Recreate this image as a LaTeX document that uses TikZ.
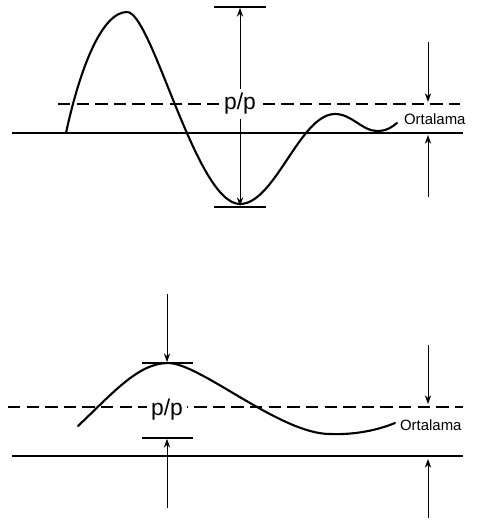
\documentclass[tikz,border=0pt]{standalone}
\usepackage{fontspec}
\setmainfont{Liberation Sans}
\usetikzlibrary{arrows.meta}

\tikzset{
  wave/.style={line width=1.2pt, line join=round, line cap=round},
  refline/.style={line width=0.6pt},
  meanline/.style={line width=0.6pt, dash pattern=on 7pt off 3.6pt},
  dimline/.style={line width=0.5pt, -{Stealth[length=5pt,width=3.6pt]}},
  dimboth/.style={line width=0.5pt, {Stealth[length=5pt,width=3.6pt]}-{Stealth[length=5pt,width=3.6pt]}},
  dimbar/.style={line width=0.6pt},
  pplabel/.style={fill=white, inner sep=2.5pt, font=\fontsize{13}{15}\selectfont},
  meanlabel/.style={anchor=west, inner sep=1pt, font=\fontsize{8.5}{10}\selectfont}
}

\begin{document}
\begin{tikzpicture}[x=0.02cm,y=-0.02cm]
  \useasboundingbox (0,0) rectangle (476,523);
  \fill[white] (0,0) rectangle (476,523);

  % ============================================================
  %                       TOP PANEL
  % ============================================================
  \draw[refline] (12,133) -- (463,133);
  \draw[meanline] (58,104) -- (460,104);

  % large swing, then decays towards the mean
  \draw[wave] (66,133) .. controls (80,68) and (102,12) .. (127,12)
    .. controls (152,12) and (196,204) .. (240,204)
    .. controls (275,204) and (300,114) .. (335,114)
    .. controls (352,114) and (362,131) .. (377,131)
    .. controls (387,131) and (392,127) .. (397,123);

  \coordinate (topHi) at (240,7);
  \coordinate (topLo) at (240,207);
  \draw[dimbar] (214,7) -- (266,7);
  \draw[dimbar] (214,207) -- (266,207);
  \draw[dimboth] ([yshift=-0.5pt]topHi) -- ([yshift=0.5pt]topLo);
  \node[pplabel] (ppTop) at (240,104) {p/p};

  \coordinate (meanTopA) at (428,42);
  \coordinate (meanTopB) at (428,102);
  \coordinate (meanTopC) at (428,197);
  \coordinate (meanTopD) at (428,135);
  \draw[dimline] (meanTopA) -- (meanTopB);
  \draw[dimline] (meanTopC) -- (meanTopD);
  \node[meanlabel] (ortTop) at (402,119) {Ortalama};

  % ============================================================
  %                       BOTTOM PANEL
  % ============================================================
  \draw[meanline] (8,407) -- (463,407);
  \draw[refline] (12,456) -- (463,456);

  % single hump above the mean
  \draw[wave] (78,426) .. controls (112,394) and (138,363) .. (168,363)
    .. controls (200,363) and (280,434) .. (330,434)
    .. controls (355,435) and (378,430) .. (395,423);

  \coordinate (botHi) at (167,363);
  \coordinate (botLo) at (167,438);
  \coordinate (botTopEnd) at (167,294);
  \coordinate (botBotEnd) at (167,508);
  \draw[dimbar] (142,363) -- (193,363);
  \draw[dimbar] (142,438) -- (193,438);
  \draw[dimline] (botTopEnd) -- ([yshift=0.5pt]botHi);
  \draw[dimline] (botBotEnd) -- ([yshift=-0.5pt]botLo);
  \node[pplabel] (ppBot) at (167,410) {p/p};

  \coordinate (meanBotA) at (428,345);
  \coordinate (meanBotB) at (428,404);
  \coordinate (meanBotC) at (428,518);
  \coordinate (meanBotD) at (428,459);
  \draw[dimline] (meanBotA) -- (meanBotB);
  \draw[dimline] (meanBotC) -- (meanBotD);
  \node[meanlabel] (ortBot) at (398,425) {Ortalama};

\end{tikzpicture}
\end{document}
